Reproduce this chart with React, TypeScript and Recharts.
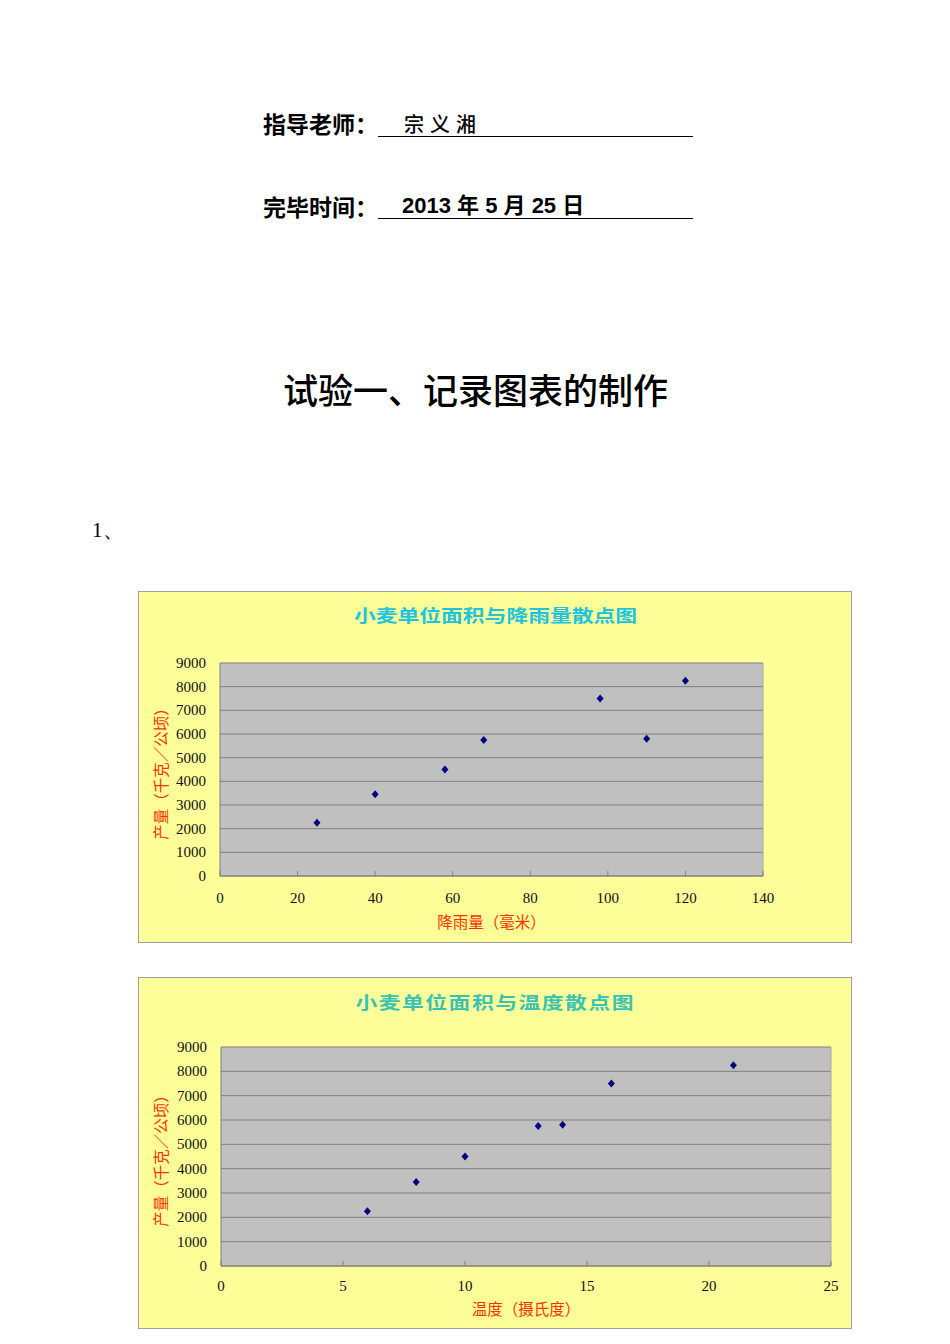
import { ScatterChart, Scatter, XAxis, YAxis, CartesianGrid, ReferenceLine } from "recharts";

// one row per observation
const rainfall = [25, 40, 58, 68, 110, 98, 120];
const temperature = [6, 8, 10, 13, 14, 16, 21];
const wheatYield = [2250, 3450, 4500, 5750, 5800, 7500, 8250];

const yTicks = [0, 1000, 2000, 3000, 4000, 5000, 6000, 7000, 8000, 9000];
const rainTicks = [0, 20, 40, 60, 80, 100, 120, 140];
const tempTicks = [0, 5, 10, 15, 20, 25];

const rainData = rainfall.map((x, i) => ({ x, y: wheatYield[i] }));
const tempData = temperature.map((x, i) => ({ x, y: wheatYield[i] }));

const CJK = '"Noto Sans CJK SC", "Noto Sans", sans-serif';
const SERIF = '"Liberation Serif", "DejaVu Serif", serif';

function Diamond(props: any) {
  const { cx, cy } = props;
  if (cx == null || cy == null) return null;
  return (
    <polygon
      points={`${cx},${cy - 4} ${cx + 3.5},${cy} ${cx},${cy + 4} ${cx - 3.5},${cy}`}
      fill="#000080"
    />
  );
}

function makeXTick(labelDy: number) {
  return function XTick(props: any) {
    const { x, y, payload } = props;
    return (
      <g>
        <line x1={x} x2={x} y1={y} y2={y - 5} stroke="#808080" />
        <text x={x} y={y + labelDy} textAnchor="middle" fontFamily={SERIF} fontSize={15} fill="#111">
          {payload.value}
        </text>
      </g>
    );
  };
}

function YTick(props: any) {
  const { x, y, payload } = props;
  return (
    <text x={x - 14} y={y + 5} textAnchor="end" fontFamily={SERIF} fontSize={15} fill="#111">
      {payload.value}
    </text>
  );
}

type PanelProps = {
  top: number;
  title: string;
  titleColor: string;
  titleSpacing: number;
  titleTop: number;
  xLabel: string;
  xLabelDy: number;
  data: { x: number; y: number }[];
  xTicks: number[];
  margin: { top: number; right: number; bottom: number; left: number };
  labelDy: number;
};

function Panel({ top, title, titleColor, titleSpacing, titleTop, xLabel, xLabelDy, data, xTicks, margin, labelDy }: PanelProps) {
  const W = 712;
  const H = 350;
  const plotLeft = margin.left;
  const plotRight = W - margin.right;
  const plotTop = margin.top;
  const plotBottom = H - margin.bottom;
  const xMax = xTicks[xTicks.length - 1];
  return (
    <div
      style={{
        position: "absolute",
        left: 138,
        top,
        width: W,
        height: H,
        background: "#FFFF99",
        border: "1px solid #A0A0A0",
      }}
    >
      <div
        style={{
          position: "absolute",
          left: 0,
          width: W,
          top: titleTop,
          textAlign: "center",
          fontFamily: CJK,
          fontWeight: 700,
          fontSize: 17,
          lineHeight: "22px",
          color: titleColor,
        }}
      >
        <span style={{ display: "inline-block", transform: "scaleX(1.28)", letterSpacing: titleSpacing }}>{title}</span>
      </div>
      <ScatterChart
        width={W}
        height={H}
        margin={{ top: margin.top, right: margin.right, bottom: margin.bottom - 40, left: margin.left - 60 }}
      >
        <CartesianGrid vertical={false} fill="#C0C0C0" stroke="#808080" fillOpacity={1} />
        <XAxis
          type="number"
          dataKey="x"
          domain={[0, xMax]}
          ticks={xTicks}
          interval={0}
          height={40}
          tickSize={0}
          tickMargin={0}
          tick={makeXTick(labelDy)}
          axisLine={{ stroke: "#808080" }}
        />
        <YAxis
          type="number"
          dataKey="y"
          domain={[0, 9000]}
          ticks={yTicks}
          interval={0}
          width={60}
          tickSize={0}
          tickMargin={0}
          tick={YTick}
          axisLine={{ stroke: "#808080" }}
        />
        <ReferenceLine x={xMax} stroke="#A8A8A8" />
        <Scatter data={data} shape={Diamond} isAnimationActive={false} />
      </ScatterChart>
      <div
        style={{
          position: "absolute",
          left: (plotLeft + plotRight) / 2 - 150,
          width: 300,
          top: plotBottom + xLabelDy,
          textAlign: "center",
          fontFamily: CJK,
          fontSize: 15.5,
          lineHeight: "18px",
          color: "#FF3300",
        }}
      >
        {xLabel}
      </div>
      <div
        style={{
          position: "absolute",
          left: 21 - 100,
          top: (plotTop + plotBottom) / 2 - 9,
          width: 200,
          textAlign: "center",
          fontFamily: CJK,
          fontSize: 15.5,
          lineHeight: "18px",
          color: "#FF3300",
          transform: "rotate(-90deg)",
        }}
      >
        产量（千克／公顷）
      </div>
    </div>
  );
}

export default function App() {
  return (
    <div
      style={{
        position: "absolute",
        left: 0,
        top: 0,
        width: 950,
        height: 1340,
        overflow: "hidden",
        background: "#fff",
        color: "#000",
      }}
    >
      <div style={{ position: "absolute", left: 263, top: 110, fontFamily: CJK, fontWeight: 700, fontSize: 23, lineHeight: "26px" }}>
        指导老师：
      </div>
      <div style={{ position: "absolute", left: 404, top: 112, fontFamily: CJK, fontWeight: 500, fontSize: 20, lineHeight: "24px", letterSpacing: 6 }}>
        宗义湘
      </div>
      <div style={{ position: "absolute", left: 378, top: 136, width: 315, borderTop: "1px solid #000" }} />

      <div style={{ position: "absolute", left: 263, top: 193, fontFamily: CJK, fontWeight: 700, fontSize: 23, lineHeight: "26px" }}>
        完毕时间：
      </div>
      <div
        style={{
          position: "absolute",
          left: 402,
          top: 193,
          fontFamily: '"Liberation Sans", "Noto Sans CJK SC", sans-serif',
          fontWeight: 700,
          fontSize: 22,
          lineHeight: "26px",
          whiteSpace: "pre",
        }}
      >
        2013 年 5 月 25 日
      </div>
      <div style={{ position: "absolute", left: 378, top: 218, width: 315, borderTop: "1px solid #000" }} />

      <div style={{ position: "absolute", left: 283, top: 368, fontFamily: CJK, fontWeight: 500, fontSize: 35, lineHeight: "42px", whiteSpace: "nowrap" }}>
        试验一、记录图表的制作
      </div>

      <div style={{ position: "absolute", left: 92, top: 518, fontFamily: SERIF, fontSize: 21, lineHeight: "24px" }}>
        1、
      </div>

      <Panel
        top={591}
        title="小麦单位面积与降雨量散点图"
        titleColor="#22C3DE"
        titleSpacing={0}
        titleTop={12}
        xLabel="降雨量（毫米）"
        xLabelDy={36}
        data={rainData}
        xTicks={rainTicks}
        margin={{ top: 71, right: 88, bottom: 66, left: 81 }}
        labelDy={27}
      />
      <Panel
        top={977}
        title="小麦单位面积与温度散点图"
        titleColor="#3AC2B4"
        titleSpacing={1.2}
        titleTop={13}
        xLabel="温度（摄氏度）"
        xLabelDy={33}
        data={tempData}
        xTicks={tempTicks}
        margin={{ top: 69, right: 20, bottom: 62, left: 82 }}
        labelDy={25}
      />
    </div>
  );
}
